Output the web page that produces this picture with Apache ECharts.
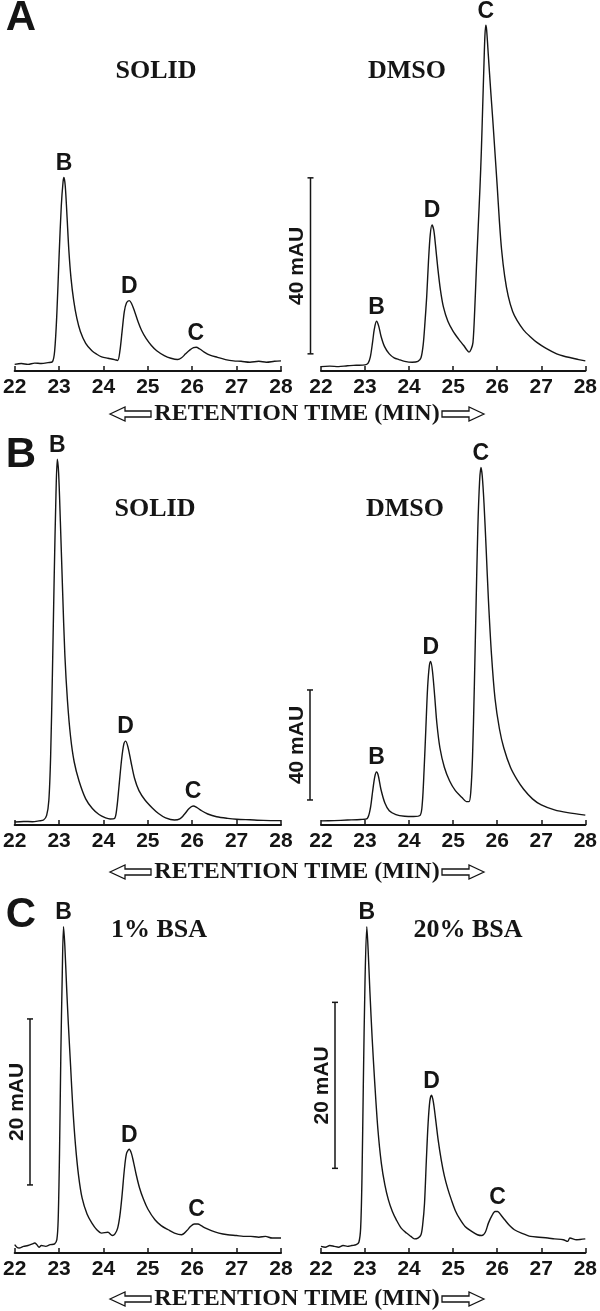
<!DOCTYPE html>
<html><head><meta charset="utf-8">
<script src="https://cdn.jsdelivr.net/npm/echarts@6/dist/echarts.min.js"></script>
<style>html,body{margin:0;padding:0;background:#fff}#c{width:600px;height:1311px}</style>
</head><body><div id="c"></div>
<script>
// ---------- DATA ----------
const xTicks = [22, 23, 24, 25, 26, 27, 28];
const rowLetters = ['A', 'B', 'C'];
const panelTitles = ['SOLID', 'DMSO', 'SOLID', 'DMSO', '1% BSA', '20% BSA'];
const axisTitle = 'RETENTION TIME (MIN)';

// retention time (min), absorbance (mAU above axis baseline)
const aSolid = [[22.0,1.5],[22.15,1.7],[22.3,1.5],[22.45,1.8],[22.6,1.7],[22.75,1.9],[22.85,2.1],[22.9,4.5],[22.95,13],[23.0,26],[23.05,37.5],[23.09,43],[23.11,44],[23.14,42],[23.18,35],[23.22,27.5],[23.27,21],[23.33,16],[23.4,12],[23.48,9],[23.6,6.3],[23.74,4.6],[23.85,3.8],[23.96,3.2],[24.1,2.9],[24.25,2.6],[24.32,2.4],[24.37,4.5],[24.42,9],[24.47,13.5],[24.52,15.5],[24.58,16],[24.63,15.4],[24.7,13.6],[24.78,11.2],[24.86,9.2],[24.96,7.4],[25.08,5.8],[25.2,4.6],[25.37,3.5],[25.52,2.9],[25.67,2.6],[25.76,3],[25.85,3.9],[25.95,4.8],[26.03,5.3],[26.09,5.4],[26.17,5],[26.27,4.3],[26.4,3.6],[26.57,3.1],[26.75,2.6],[26.93,2.3],[27.1,2.2],[27.3,2.0],[27.5,2.2],[27.67,2.0],[27.85,2.2],[28.0,2.3]];
const aDmso = [[22.0,1.0],[22.2,1.1],[22.4,1.0],[22.6,1.2],[22.8,1.3],[23.0,1.4],[23.07,1.8],[23.12,3.2],[23.17,6.5],[23.21,9.5],[23.26,11.3],[23.31,10.2],[23.36,8.0],[23.44,5.6],[23.55,3.9],[23.66,3.0],[23.77,2.6],[23.9,2.2],[24.07,2.0],[24.2,2.2],[24.27,3.0],[24.32,6],[24.36,11],[24.4,17],[24.44,25],[24.48,31],[24.52,33.2],[24.56,32],[24.6,28.5],[24.65,23.5],[24.71,18.5],[24.78,14.5],[24.88,11.3],[25.0,9.0],[25.12,7.3],[25.24,5.8],[25.31,4.8],[25.36,4.3],[25.41,5.0],[25.45,6.5],[25.49,14],[25.53,24],[25.57,33],[25.61,42],[25.64,50],[25.67,60],[25.7,70],[25.72,76],[25.74,78.6],[25.76,77.5],[25.8,71.5],[25.85,64],[25.9,57],[25.95,49.5],[26.0,42],[26.05,34],[26.1,27.5],[26.17,21.5],[26.25,17],[26.35,13.5],[26.45,11.5],[26.6,9.3],[26.75,7.8],[26.9,6.5],[27.1,5.2],[27.35,3.9],[27.5,3.4],[27.72,2.9],[27.85,2.6],[28.0,2.3]];
const bSolid = [[22.0,1.1],[22.2,1.3],[22.4,1.2],[22.55,1.5],[22.65,1.8],[22.72,3.5],[22.77,9],[22.81,25],[22.85,55],[22.89,90],[22.93,120],[22.96,133],[22.99,128],[23.03,110],[23.08,85],[23.13,62],[23.19,45],[23.26,32],[23.34,23],[23.45,16],[23.6,9.5],[23.75,6],[23.9,3.8],[24.05,2.6],[24.15,2.2],[24.25,2.4],[24.3,6],[24.35,14],[24.41,24],[24.46,29.5],[24.5,30.5],[24.55,28.5],[24.62,23],[24.7,17],[24.8,12.5],[24.94,9],[25.1,6.2],[25.24,4.2],[25.4,2.6],[25.6,1.8],[25.72,2.2],[25.82,3.8],[25.93,6],[26.02,6.9],[26.1,6.4],[26.2,5.3],[26.35,4],[26.55,3],[26.8,2.4],[27.0,2.1],[27.3,1.9],[27.6,1.7],[28.0,1.6]];
const bDmso = [[22.0,1.5],[22.3,1.6],[22.6,1.8],[22.9,2.0],[23.05,2.4],[23.12,6],[23.17,12],[23.22,17.5],[23.26,19.3],[23.3,18],[23.36,13],[23.45,8],[23.55,5.2],[23.7,3.8],[23.9,3.2],[24.1,3.1],[24.25,3.5],[24.3,8],[24.34,20],[24.38,35],[24.42,50],[24.46,58],[24.49,59.5],[24.53,56],[24.58,47],[24.63,37],[24.7,28],[24.8,21],[24.92,16],[25.05,12.5],[25.2,10],[25.3,8.5],[25.36,8.5],[25.4,12],[25.44,25],[25.48,50],[25.52,80],[25.56,108],[25.6,125],[25.63,130],[25.66,127],[25.7,117],[25.75,100],[25.8,82],[25.87,62],[25.95,46],[26.05,35],[26.15,28],[26.3,21],[26.45,16.5],[26.6,13],[26.8,9.5],[27.0,7.3],[27.3,5.5],[27.6,4.5],[28.0,3.6]];
const cBsa1 = [[22.0,1.0],[22.05,0.7],[22.1,0.6],[22.2,0.8],[22.3,0.9],[22.4,1.1],[22.45,1.2],[22.5,1.0],[22.55,0.7],[22.6,0.9],[22.7,0.8],[22.8,1.0],[22.9,1.1],[22.95,1.6],[22.98,4],[23.01,12],[23.04,24],[23.07,33],[23.1,39.3],[23.13,37],[23.17,32],[23.21,27.5],[23.26,22.5],[23.31,17.5],[23.37,13],[23.44,9.3],[23.52,6.6],[23.63,4.7],[23.74,3.6],[23.85,2.8],[23.96,2.4],[24.1,2.5],[24.2,2.1],[24.26,2.3],[24.32,3],[24.37,4.5],[24.42,7],[24.47,10],[24.52,12],[24.58,12.5],[24.63,12.0],[24.68,10.9],[24.74,9.4],[24.81,7.9],[24.9,6.5],[25.0,5.3],[25.16,4.0],[25.3,3.3],[25.46,2.8],[25.6,2.4],[25.76,2.2],[25.88,2.7],[25.96,3.2],[26.05,3.5],[26.13,3.5],[26.2,3.3],[26.3,3.0],[26.43,2.7],[26.6,2.4],[26.8,2.2],[27.0,2.1],[27.15,2.0],[27.32,2.0],[27.5,1.9],[27.65,2.0],[27.8,1.8],[28.0,1.8]];
const cBsa20 = [[22.0,0.8],[22.1,0.7],[22.2,0.9],[22.3,0.8],[22.4,0.7],[22.5,0.9],[22.6,0.8],[22.7,0.9],[22.8,1.0],[22.86,1.3],[22.9,3],[22.93,9],[22.96,20],[23.0,33],[23.04,39.3],[23.07,36.5],[23.11,31.5],[23.16,26],[23.22,20.5],[23.29,15],[23.37,10.8],[23.45,8.2],[23.53,6.4],[23.62,5],[23.71,4],[23.82,3],[23.94,2.4],[24.04,2.0],[24.12,1.7],[24.2,1.8],[24.27,2.2],[24.31,3.5],[24.35,6],[24.39,11],[24.43,15.5],[24.47,18.3],[24.51,19],[24.55,18.2],[24.6,16.2],[24.66,13.6],[24.73,11.2],[24.8,9.3],[24.88,7.7],[24.96,6.4],[25.05,5.1],[25.15,4.1],[25.27,3.2],[25.42,2.6],[25.55,2.2],[25.65,2.1],[25.73,2.5],[25.8,3.6],[25.88,4.5],[25.95,5],[26.01,5.0],[26.08,4.6],[26.17,4.0],[26.28,3.3],[26.39,2.8],[26.55,2.4],[26.76,2.0],[26.95,1.9],[27.15,1.8],[27.3,1.7],[27.5,1.6],[27.6,1.4],[27.65,1.8],[27.8,1.6],[28.0,1.7]];

// peak labels: [time, mAU, label]
const aSolidPeaks = [[23.11,44,'B'],[24.58,16,'D'],[26.08,5.4,'C']];
const aDmsoPeaks = [[23.26,11.3,'B'],[24.52,33.2,'D'],[25.74,78.6,'C']];
const bSolidPeaks = [[22.96,133,'B'],[24.5,30.5,'D'],[26.02,6.9,'C']];
const bDmsoPeaks = [[23.26,19.3,'B'],[24.49,59.5,'D'],[25.63,130,'C']];
const cBsa1Peaks = [[23.1,39.3,'B'],[24.58,12.5,'D'],[26.1,3.5,'C']];
const cBsa20Peaks = [[23.04,39.3,'B'],[24.51,19,'D'],[26.01,5.0,'C']];

// scale bars: [panel index, start mAU, span mAU]
const scaleBars = [[1, 3.9, 40], [3, 9.1, 40], [4, 8.2, 20], [5, 10.2, 20]];

// ---------- LAYOUT / STYLE ----------
const curves = [aSolid, aDmso, bSolid, bDmso, cBsa1, cBsa20];
const peaks = [aSolidPeaks, aDmsoPeaks, bSolidPeaks, bDmsoPeaks, cBsa1Peaks, cBsa20Peaks];
const colX = [{left: 12, width: 269}, {left: 321, width: 268}];
const rows = [
  {axisY: 371, max: 80, px: 4.4, letterY: 18, titleY: 71, retY: 414},
  {axisY: 825, max: 150, px: 2.75, letterY: 455, titleY: 509, retY: 872},
  {axisY: 1253, max: 45, px: 8.3, letterY: 915, titleY: 930, retY: 1299}
];
const titleX = [[156, 407], [155, 405], [159, 468]];
const barX = {1: 310.5, 3: 310, 4: 30, 5: 335};
const INK = '#151515';
const LABEL_LIFT = 14;

const grids = [], xAxes = [], yAxes = [], series = [];
for (let p = 0; p < 6; p++) {
  const r = rows[Math.floor(p / 2)], c = colX[p % 2];
  const h = r.max * r.px;
  grids.push({left: c.left, width: c.width, top: r.axisY - h, height: h});
  xAxes.push({
    gridIndex: p, type: 'value', min: xTicks[0], max: xTicks[xTicks.length - 1], interval: 1,
    axisLine: {show: true, lineStyle: {color: INK, width: 2}},
    axisTick: {show: true, inside: true, length: 5, lineStyle: {color: INK, width: 1.5}},
    axisLabel: {color: INK, fontSize: 21, fontWeight: 'bold', fontFamily: 'Liberation Sans', margin: 6,
      formatter: v => xTicks.includes(v) ? String(v) : '', showMinLabel: true, showMaxLabel: true},
    splitLine: {show: false}
  });
  yAxes.push({gridIndex: p, type: 'value', min: 0, max: r.max, show: false});
  series.push({
    type: 'line', xAxisIndex: p, yAxisIndex: p, data: curves[p], showSymbol: false, symbol: 'none',
    smooth: 0.3, lineStyle: {color: INK, width: 1.4}, silent: true, animation: false
  });
}

const graphic = [];
function txt(x, y, text, font, rot) {
  graphic.push({type: 'text', x: x, y: y, rotation: rot || 0, silent: true,
    style: {text: text, font: font, fill: INK, align: 'center', verticalAlign: 'middle'}});
}
function arrow(tipX, baseX, endX, y) {
  const hh = 7, sh = 3;
  const pts = [[tipX, y], [baseX, y - hh], [baseX, y - sh], [endX, y - sh], [endX, y + sh], [baseX, y + sh], [baseX, y + hh]];
  graphic.push({type: 'polygon', silent: true, shape: {points: pts}, style: {fill: '#fff', stroke: INK, lineWidth: 1.3}});
}
rows.forEach((r, i) => {
  txt(21, r.letterY, rowLetters[i], 'bold 42px "Liberation Sans"');
  txt(titleX[i][0], r.titleY, panelTitles[i * 2], 'bold 26px "Liberation Serif"');
  txt(titleX[i][1], r.titleY, panelTitles[i * 2 + 1], 'bold 26px "Liberation Serif"');
  txt(297, r.retY, axisTitle, 'bold 24px "Liberation Serif"');
  arrow(110, 125, 151, r.retY);
  arrow(484, 469, 442, r.retY);
});

const chart = echarts.init(document.getElementById('c'), null, {renderer: 'canvas'});
chart.setOption({backgroundColor: '#fff', animation: false, grid: grids, xAxis: xAxes, yAxis: yAxes, series: series});

// peak labels placed through each panel's scales
peaks.forEach((list, p) => {
  list.forEach(([t, v, name]) => {
    const pt = chart.convertToPixel({xAxisIndex: p, yAxisIndex: p}, [t, v]);
    txt(pt[0], pt[1] - LABEL_LIFT, name, 'bold 23px "Liberation Sans"');
  });
});

scaleBars.forEach(([p, start, span]) => {
  const y0 = chart.convertToPixel({yAxisIndex: p}, start);
  const y1 = chart.convertToPixel({yAxisIndex: p}, start + span);
  const x = barX[p];
  const ls = {stroke: INK, lineWidth: 1.5};
  graphic.push({type: 'line', silent: true, shape: {x1: x, y1: y0, x2: x, y2: y1}, style: ls});
  graphic.push({type: 'line', silent: true, shape: {x1: x - 3, y1: y0, x2: x + 3, y2: y0}, style: ls});
  graphic.push({type: 'line', silent: true, shape: {x1: x - 3, y1: y1, x2: x + 3, y2: y1}, style: ls});
  txt(x - 13, (y0 + y1) / 2, span + ' mAU', 'bold 21px "Liberation Sans"', Math.PI / 2);
});
chart.setOption({graphic: graphic});
</script></body></html>
